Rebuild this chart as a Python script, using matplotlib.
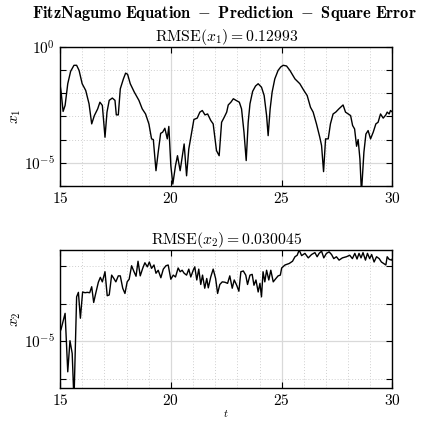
import numpy as np
import matplotlib
matplotlib.use("Agg")
import matplotlib.pyplot as plt
from matplotlib.ticker import FixedLocator, LogFormatterSciNotation, NullFormatter

plt.rcParams['font.family'] = 'serif'
plt.rcParams['font.serif'] = ['cmr10', 'DejaVu Serif']
plt.rcParams['mathtext.fontset'] = 'cm'
plt.rcParams['axes.formatter.use_mathtext'] = True

# ---- data: time and log10 of square error ----
t_x1 = [15.0, 15.05, 15.14, 15.23, 15.35, 15.48, 15.63, 15.75, 15.86, 16.0, 16.16, 16.31, 16.43,
        16.55, 16.70, 16.80, 16.91, 17.03, 17.12, 17.22, 17.36, 17.48, 17.54, 17.63, 17.72,
        17.86, 17.96, 18.05, 18.17, 18.35, 18.56, 18.71, 18.86, 19.01, 19.13, 19.21, 19.33,
        19.43, 19.54, 19.63, 19.73, 19.84, 19.91, 20.0, 20.09, 20.21, 20.30, 20.42, 20.53,
        20.60, 20.71, 20.81, 20.94, 21.04, 21.19, 21.31, 21.42, 21.54, 21.66, 21.80, 21.91,
        22.06, 22.18, 22.29, 22.41, 22.52, 22.59, 22.71, 22.82, 22.94, 23.09, 23.19, 23.30,
        23.40, 23.49, 23.57, 23.69, 23.82, 23.94, 24.09, 24.21, 24.32, 24.39, 24.48, 24.57,
        24.69, 24.84, 24.96, 25.07, 25.22, 25.37, 25.60, 25.82, 26.0, 26.15, 26.30, 26.42,
        26.57, 26.72, 26.80, 26.89, 26.98, 27.10, 27.20, 27.32, 27.44, 27.58, 27.77, 27.88,
        28.0, 28.11, 28.20, 28.29, 28.38, 28.45, 28.53, 28.60, 28.71, 28.80, 28.90, 29.01,
        29.13, 29.25, 29.35, 29.46, 29.58, 29.70, 29.76, 29.85, 29.91, 30.0]
log10_err_x1 = [-1.6, -1.94, -2.78, -2.52, -1.58, -1.04, -0.78, -0.78, -1.0, -1.58, -1.87, -2.45, -3.32,
                -2.96, -2.67, -2.38, -2.52, -3.9, -2.81, -2.30, -2.20, -2.30, -2.93, -2.93, -1.80,
                -1.37, -1.12, -1.17, -1.58, -1.94, -2.30, -2.67, -2.89, -3.32, -3.97, -4.0, -5.35,
                -4.55, -3.73, -3.68, -3.51, -3.97, -3.43, -5.13, -5.93, -5.13, -4.7, -5.35, -4.63,
                -4.19, -5.57, -4.41, -3.68, -3.13, -3.07, -2.81, -2.74, -2.93, -2.89, -3.17, -3.32,
                -4.48, -4.7, -3.25, -3.03, -2.81, -2.50, -2.38, -2.23, -2.30, -2.38, -2.67, -3.68,
                -4.91, -3.25, -2.45, -1.91, -1.68, -1.58, -1.73, -2.09, -2.96, -3.83, -2.67, -1.94,
                -1.37, -1.0, -0.85, -0.78, -0.81, -1.0, -1.37, -1.58, -1.87, -2.09, -2.60, -2.81,
                -3.32, -3.9, -4.26, -5.39, -3.97, -3.97, -3.32, -2.89, -2.81, -2.67, -2.50, -2.81,
                -2.89, -2.96, -3.39, -3.54, -4.29, -4.0, -4.84, -6.3, -4.55, -3.76, -3.61, -3.97,
                -3.68, -3.32, -3.25, -2.89, -3.07, -2.93, -2.81, -2.89, -2.74, -2.81]

t_x2 = [15.0, 15.05, 15.23, 15.35, 15.45, 15.55, 15.63, 15.75, 15.83, 15.92, 16.02, 16.13, 16.23,
        16.34, 16.43, 16.52, 16.61, 16.73, 16.82, 16.91, 17.03, 17.13, 17.22, 17.33, 17.43,
        17.52, 17.63, 17.72, 17.83, 17.93, 18.03, 18.12, 18.23, 18.34, 18.43, 18.52, 18.62,
        18.73, 18.83, 18.94, 19.03, 19.13, 19.24, 19.33, 19.43, 19.55, 19.66, 19.78, 19.88,
        20.0, 20.11, 20.21, 20.33, 20.42, 20.51, 20.60, 20.71, 20.81, 20.90, 21.01, 21.08,
        21.17, 21.26, 21.35, 21.43, 21.53, 21.62, 21.69, 21.80, 21.91, 22.02, 22.11, 22.21,
        22.32, 22.44, 22.56, 22.66, 22.77, 22.86, 22.97, 23.07, 23.16, 23.27, 23.38, 23.46,
        23.57, 23.67, 23.75, 23.84, 23.94, 24.02, 24.09, 24.16, 24.24, 24.32, 24.42, 24.51,
        24.62, 24.74, 24.84, 24.94, 25.0, 25.15, 25.34, 25.49, 25.60, 25.70, 25.79, 25.90,
        26.05, 26.20, 26.35, 26.50, 26.60, 26.69, 26.80, 26.90, 27.02, 27.14, 27.25, 27.35,
        27.47, 27.59, 27.74, 27.92, 28.07, 28.19, 28.30, 28.40, 28.49, 28.58, 28.67, 28.78,
        28.87, 28.97, 29.06, 29.17, 29.28, 29.40, 29.50, 29.60, 29.70, 29.76, 29.85, 29.96, 30.0]
log10_err_x2 = [-4.75, -4.68, -4.26, -5.82, -4.99, -5.33, -6.6, -3.82, -3.70, -4.39, -3.69, -3.71, -3.70,
                -3.71, -3.55, -3.97, -3.73, -3.43, -3.30, -3.42, -3.15, -3.79, -3.77, -3.24, -3.33,
                -3.42, -3.26, -3.26, -3.59, -3.73, -3.42, -3.35, -2.99, -3.15, -3.27, -2.87, -3.26,
                -3.06, -2.91, -3.02, -2.89, -3.06, -2.97, -3.19, -3.11, -3.31, -3.08, -2.99, -2.97,
                -3.35, -3.24, -3.29, -3.05, -3.15, -3.11, -3.19, -3.24, -3.08, -3.29, -3.11, -3.02,
                -3.37, -3.08, -3.49, -3.24, -3.59, -3.33, -3.58, -3.29, -3.08, -3.33, -3.73, -3.49,
                -3.42, -3.43, -3.46, -3.26, -3.59, -3.37, -3.51, -3.67, -3.15, -3.13, -3.24, -3.49,
                -3.24, -3.22, -3.51, -3.37, -3.69, -3.46, -3.82, -3.15, -3.42, -3.11, -3.37, -3.11,
                -3.42, -3.33, -3.26, -3.24, -3.05, -2.97, -2.93, -2.87, -2.75, -2.71, -2.57, -2.72,
                -2.66, -2.78, -2.69, -2.64, -2.75, -2.66, -2.60, -2.78, -2.66, -2.62, -2.69, -2.80,
                -2.75, -2.84, -2.78, -2.75, -2.71, -2.80, -2.66, -2.81, -2.66, -2.78, -2.64, -2.84,
                -2.66, -2.80, -2.69, -2.89, -2.75, -2.80, -2.89, -2.93, -2.97, -2.75, -2.82, -2.84, -2.80]

main_title = r"$\mathbf{FitzNagumo\ Equation\ -\ Prediction\ -\ Square\ Error}$"
sub_titles = [r"$\mathrm{RMSE}(x_1) = 0.12993$", r"$\mathrm{RMSE}(x_2) = 0.030045$"]
y_labels = [r"$x_1$", r"$x_2$"]
x_ticks = [15, 20, 25, 30]

W, H = 427, 423
fig = plt.figure(figsize=(W / 100, H / 100), dpi=100)

def px_axes(l, t, r, b):
    return fig.add_axes([l / W, 1 - b / H, (r - l) / W, (b - t) / H])

ax1 = px_axes(60, 47.3, 392.5, 185.7)
ax2 = px_axes(60, 250, 392.5, 388.3)

series = [(t_x1, log10_err_x1), (t_x2, log10_err_x2)]
ylims = [(1e-6, 1.0), (10 ** -6.26, 10 ** -2.57)]
major_y = [[1e-5, 1.0], [1e-5]]
minor_y = [[1e-6, 1e-4, 1e-3, 1e-2, 1e-1], [1e-6, 1e-4, 1e-3]]

for i, ax in enumerate([ax1, ax2]):
    t, le = series[i]
    ax.semilogy(t, 10 ** np.array(le), color='black', lw=1.0)
    ax.set_xlim(15, 30)
    ax.set_ylim(*ylims[i])
    ax.set_xticks(x_ticks)
    ax.xaxis.set_minor_locator(FixedLocator(np.arange(16, 30, 1)))
    ax.yaxis.set_major_locator(FixedLocator(major_y[i]))
    ax.yaxis.set_major_formatter(LogFormatterSciNotation())
    ax.yaxis.set_minor_locator(FixedLocator(minor_y[i]))
    ax.yaxis.set_minor_formatter(NullFormatter())
    ax.grid(True, which='major', color='#d9d9d9', lw=0.9, ls='-')
    ax.grid(True, which='minor', color='#cfcfcf', lw=0.7, ls=(0, (1, 2)))
    ax.set_axisbelow(True)
    ax.tick_params(which='both', direction='in', top=True, right=True, labelsize=11)
    ax.tick_params(which='major', length=4, width=0.8)
    ax.tick_params(axis='y', which='minor', length=4, width=0.8)
    ax.tick_params(axis='x', which='minor', length=0)
    for s in ax.spines.values():
        s.set_linewidth(1.0)
    ax.set_title(sub_titles[i], fontsize=11.3, pad=3)
    ax.set_ylabel(y_labels[i], fontsize=11, labelpad=1)

ax2.set_xlabel(r"$t$", fontsize=8, labelpad=0)
fig.suptitle(main_title, fontsize=11.8, x=0.526, y=0.99)

fig.savefig("out.png", dpi=100)
